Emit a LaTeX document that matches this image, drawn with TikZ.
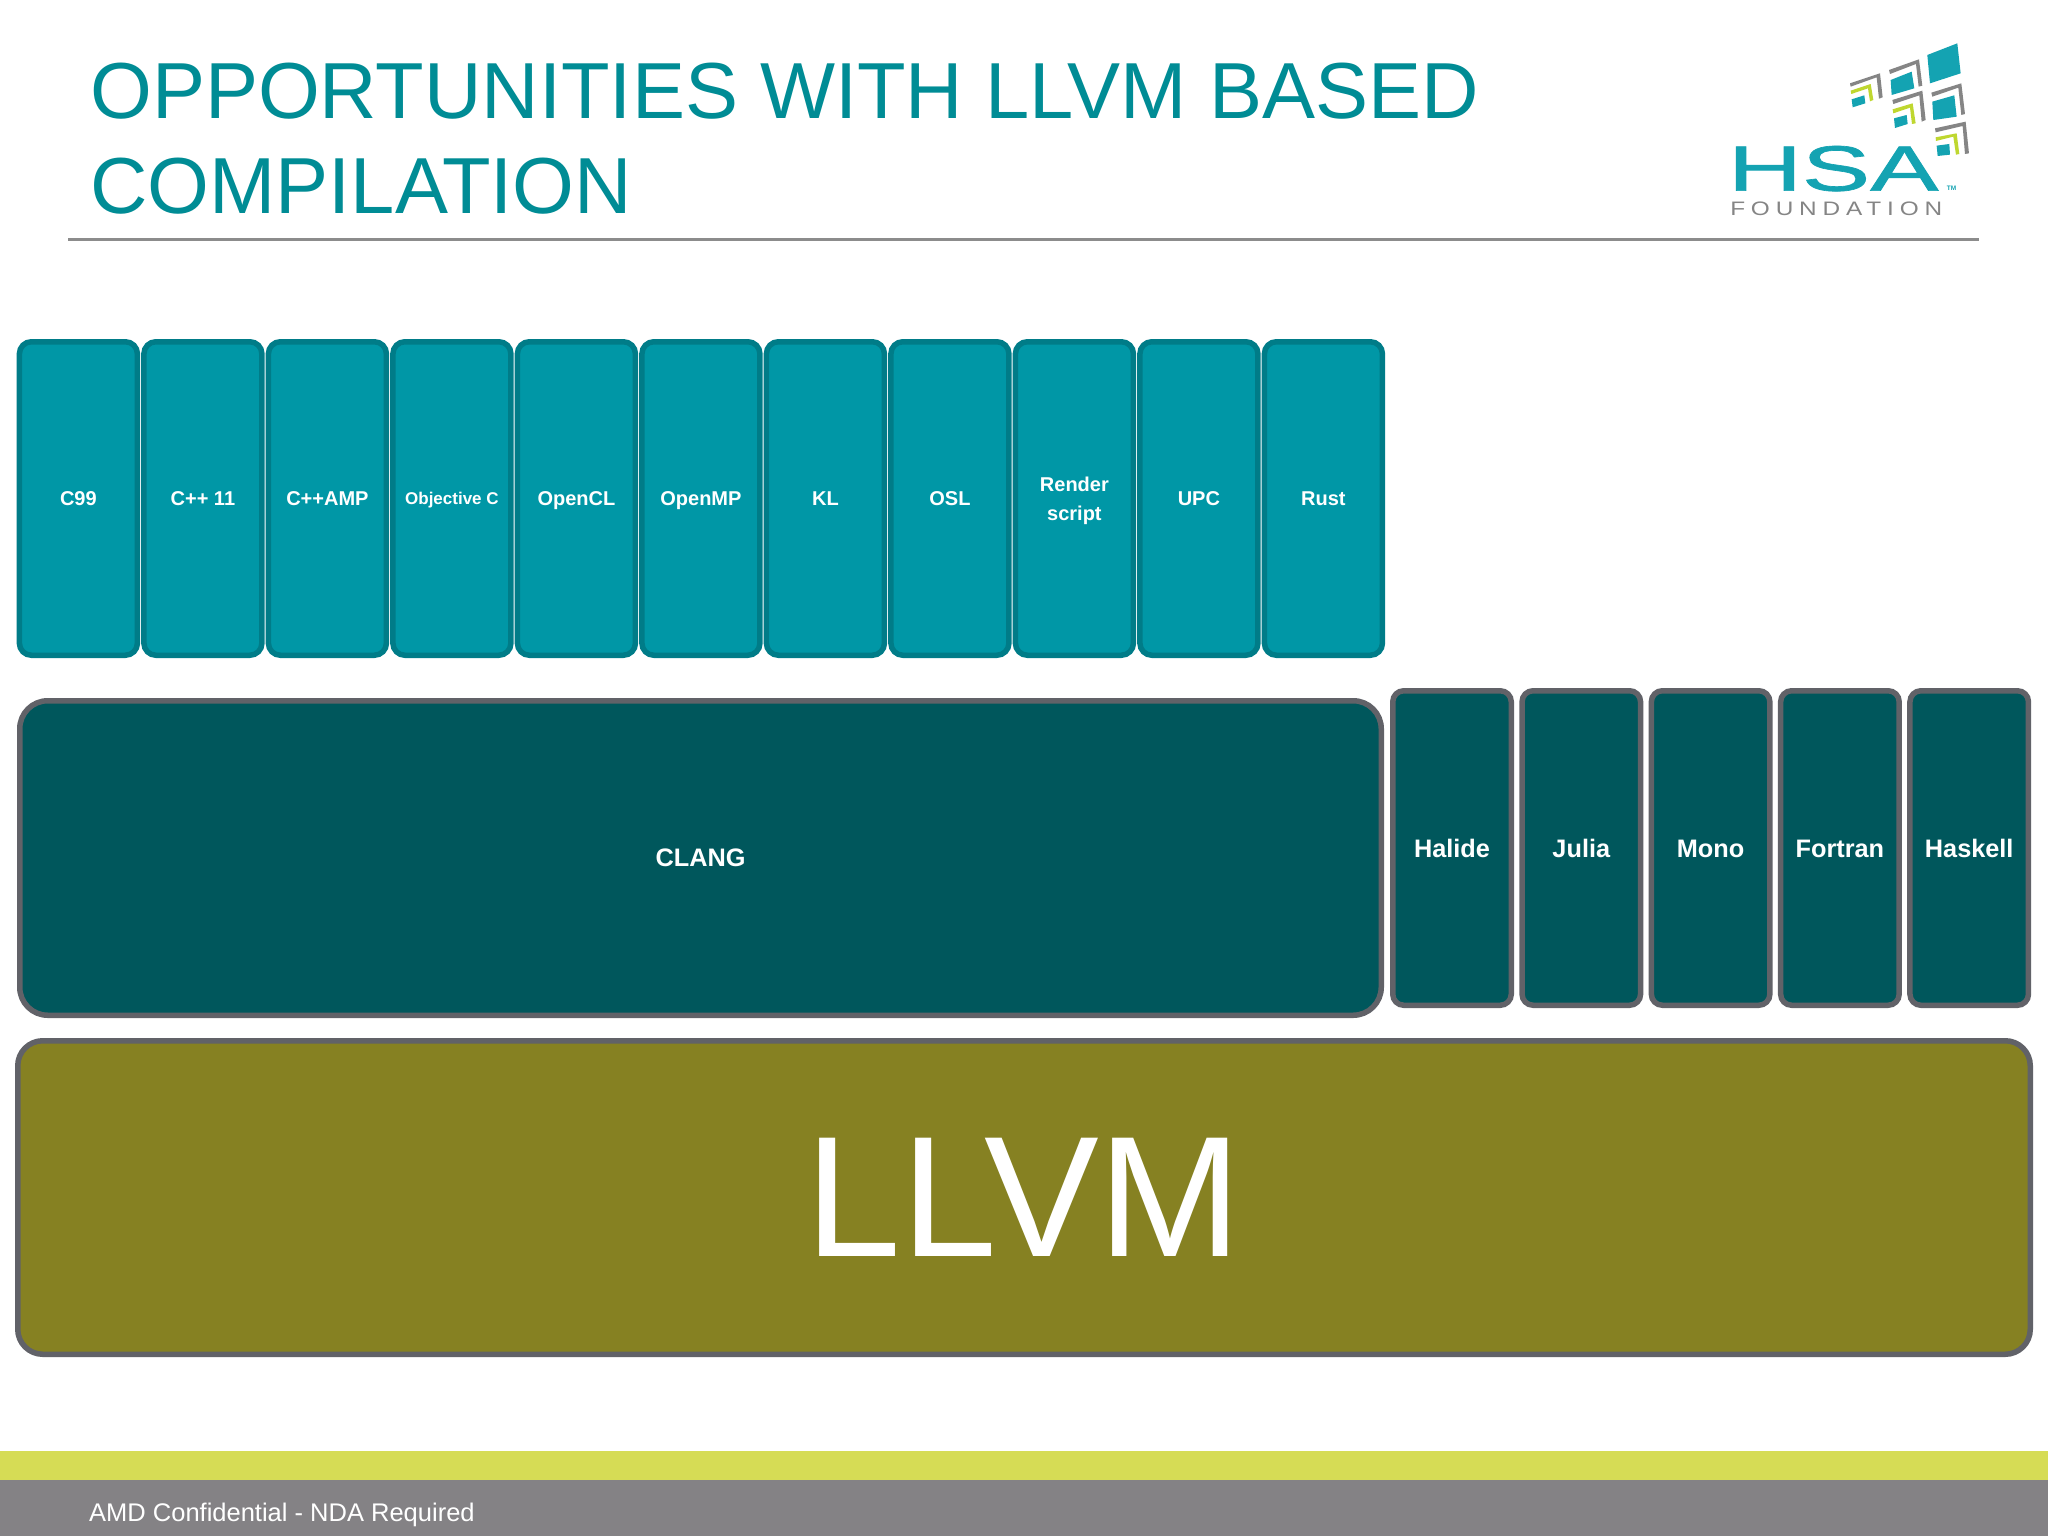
\documentclass[tikz,border=0pt]{standalone}
\usepackage{fontspec}
\setmainfont{Liberation Sans}
\definecolor{titleC}{HTML}{008C95}
\definecolor{tealF}{HTML}{0097A6}
\definecolor{tealB}{HTML}{007C88}
\definecolor{darkF}{HTML}{00575C}
\definecolor{slateB}{HTML}{616268}
\definecolor{oliveF}{HTML}{868122}
\definecolor{limeBar}{HTML}{D6DC55}
\definecolor{grayBar}{HTML}{848285}
\definecolor{ruleC}{HTML}{8C8C8C}
\definecolor{logoT}{HTML}{14A3B2}
\definecolor{logoG}{HTML}{858585}
\definecolor{logoY}{HTML}{BFD730}
\tikzset{
  x=1pt,y=-1pt,
  boxbase/.style={draw,inner sep=0pt,align=center,text=white,text depth=0pt,font=\bfseries},
  langbox/.style={boxbase,fill=tealF,draw=tealB,line width=5.5pt,rounded corners=12pt,minimum width=118pt,minimum height=313.5pt,
     font=\fontsize{20}{29}\selectfont\bfseries},
  sidebox/.style={boxbase,fill=darkF,draw=slateB,line width=5.5pt,rounded corners=11pt,minimum width=118.5pt,minimum height=314.5pt,text height=18pt,
     font=\fontsize{25.3}{30}\selectfont\bfseries},
  clangbox/.style={boxbase,fill=darkF,draw=slateB,line width=5.5pt,rounded corners=28pt,minimum width=1361.5pt,minimum height=314.5pt,
     font=\fontsize{25.3}{30}\selectfont\bfseries},
  llvmbox/.style={boxbase,fill=oliveF,draw=slateB,line width=5.5pt,rounded corners=25pt,minimum width=2012.5pt,minimum height=313.5pt,
     font=\fontsize{172}{174}\selectfont\mdseries},
  titletext/.style={anchor=base west,inner sep=0pt,text=titleC,font=\fontsize{79.5}{94}\selectfont},
}
\begin{document}
\begin{tikzpicture}
\useasboundingbox (0,0) rectangle (2048,1536);
\fill[white] (0,0) rectangle (2048,1536);
% footer
\fill[limeBar] (0,1451) rectangle (2048,1480);
\fill[grayBar] (0,1480) rectangle (2048,1536);
\node[anchor=base west,inner sep=0pt,text=white,font=\fontsize{25.5}{30}\selectfont] (footer) at (89,1521) {AMD Confidential - NDA Required};
% title
\node[titletext] (titleA) at (90,119) {OPPORTUNITIES WITH LLVM BASED};
\node[titletext] (titleB) at (90,213) {COMPILATION};
\coordinate (ruleL) at (68,239);
\coordinate (ruleR) at (1979,239);
\draw[ruleC,line width=3pt] (ruleL) -- (ruleR);
% language boxes
\foreach \n/\t [count=\i from 0] in {c/C99,cpp/C++ 11,amp/C++AMP,objc/{\fontsize{17}{20}\selectfont Objective C},ocl/OpenCL,omp/OpenMP,kl/KL,osl/OSL,rs/{Render\\script},upc/UPC,rust/Rust}{
  \node[langbox] (\n) at ({78.4+\i*124.5},498.5) {\t};
}
\node[clangbox] (clang) at (700.5,858) {CLANG};
\foreach \n/\t [count=\i from 0] in {halide/Halide,julia/Julia,mono/Mono,fortran/Fortran,haskell/Haskell}{
  \node[sidebox] (\n) at ({1452+\i*129.3},848) {\t};
}
\node[llvmbox] (llvm) at (1024,1197.5) {LLVM};
% logo
\begin{scope}[shift={(1680,20)},x=0.3333pt,y=-0.3333pt]
 \fill[logoT] (742,105)--(832,70)--(842,160)--(750,190)--cycle;
 \fill[logoG] (627,150)--(717,118)--(727,197)--(716,200)--(708,132)--(630,162)--cycle;
 \fill[logoT] (632,180)--(695,155)--(703,205)--(635,225)--cycle;
 \fill[logoG] (510,190)--(600,160)--(608,232)--(597,236)--(590,172)--(512,200)--cycle;
 \fill[logoY] (512,212)--(572,192)--(580,240)--(570,244)--(564,205)--(514,222)--cycle;
 \fill[logoT] (515,238)--(553,226)--(556,250)--(518,262)--cycle;
 \fill[logoG] (637,240)--(727,212)--(737,300)--(725,305)--(718,226)--(640,252)--cycle;
 \fill[logoY] (638,268)--(698,250)--(707,310)--(696,312)--(690,263)--(640,280)--cycle;
 \fill[logoT] (642,295)--(680,285)--(683,312)--(645,324)--cycle;
 \fill[logoG] (754,218)--(844,190)--(855,282)--(844,285)--(835,203)--(757,230)--cycle;
 \fill[logoT] (757,245)--(823,226)--(830,290)--(760,300)--cycle;
 \fill[logoG] (765,325)--(857,305)--(867,400)--(855,402)--(848,318)--(767,337)--cycle;
 \fill[logoY] (767,352)--(830,340)--(838,402)--(828,404)--(820,350)--(768,363)--cycle;
 \fill[logoT] (770,377)--(808,372)--(810,404)--(773,408)--cycle;
 \node[anchor=base west,inner sep=0pt,text=logoT,font=\fontsize{64}{64}\selectfont\addfontfeature{FakeBold=1},xscale=1.6] (hsa) at (143,512) {HSA};
 \node[anchor=base west,inner sep=0pt,text=logoT,font=\fontsize{6.5}{7}\selectfont\bfseries] (tm) at (800,513) {TM};
 \node[anchor=base west,inner sep=0pt,text=logoG,font=\fontsize{19.5}{20}\selectfont\addfontfeature{LetterSpace=24},xscale=1.25] (found) at (150,587) {FOUNDATION};
\end{scope}
\end{tikzpicture}
\end{document}
